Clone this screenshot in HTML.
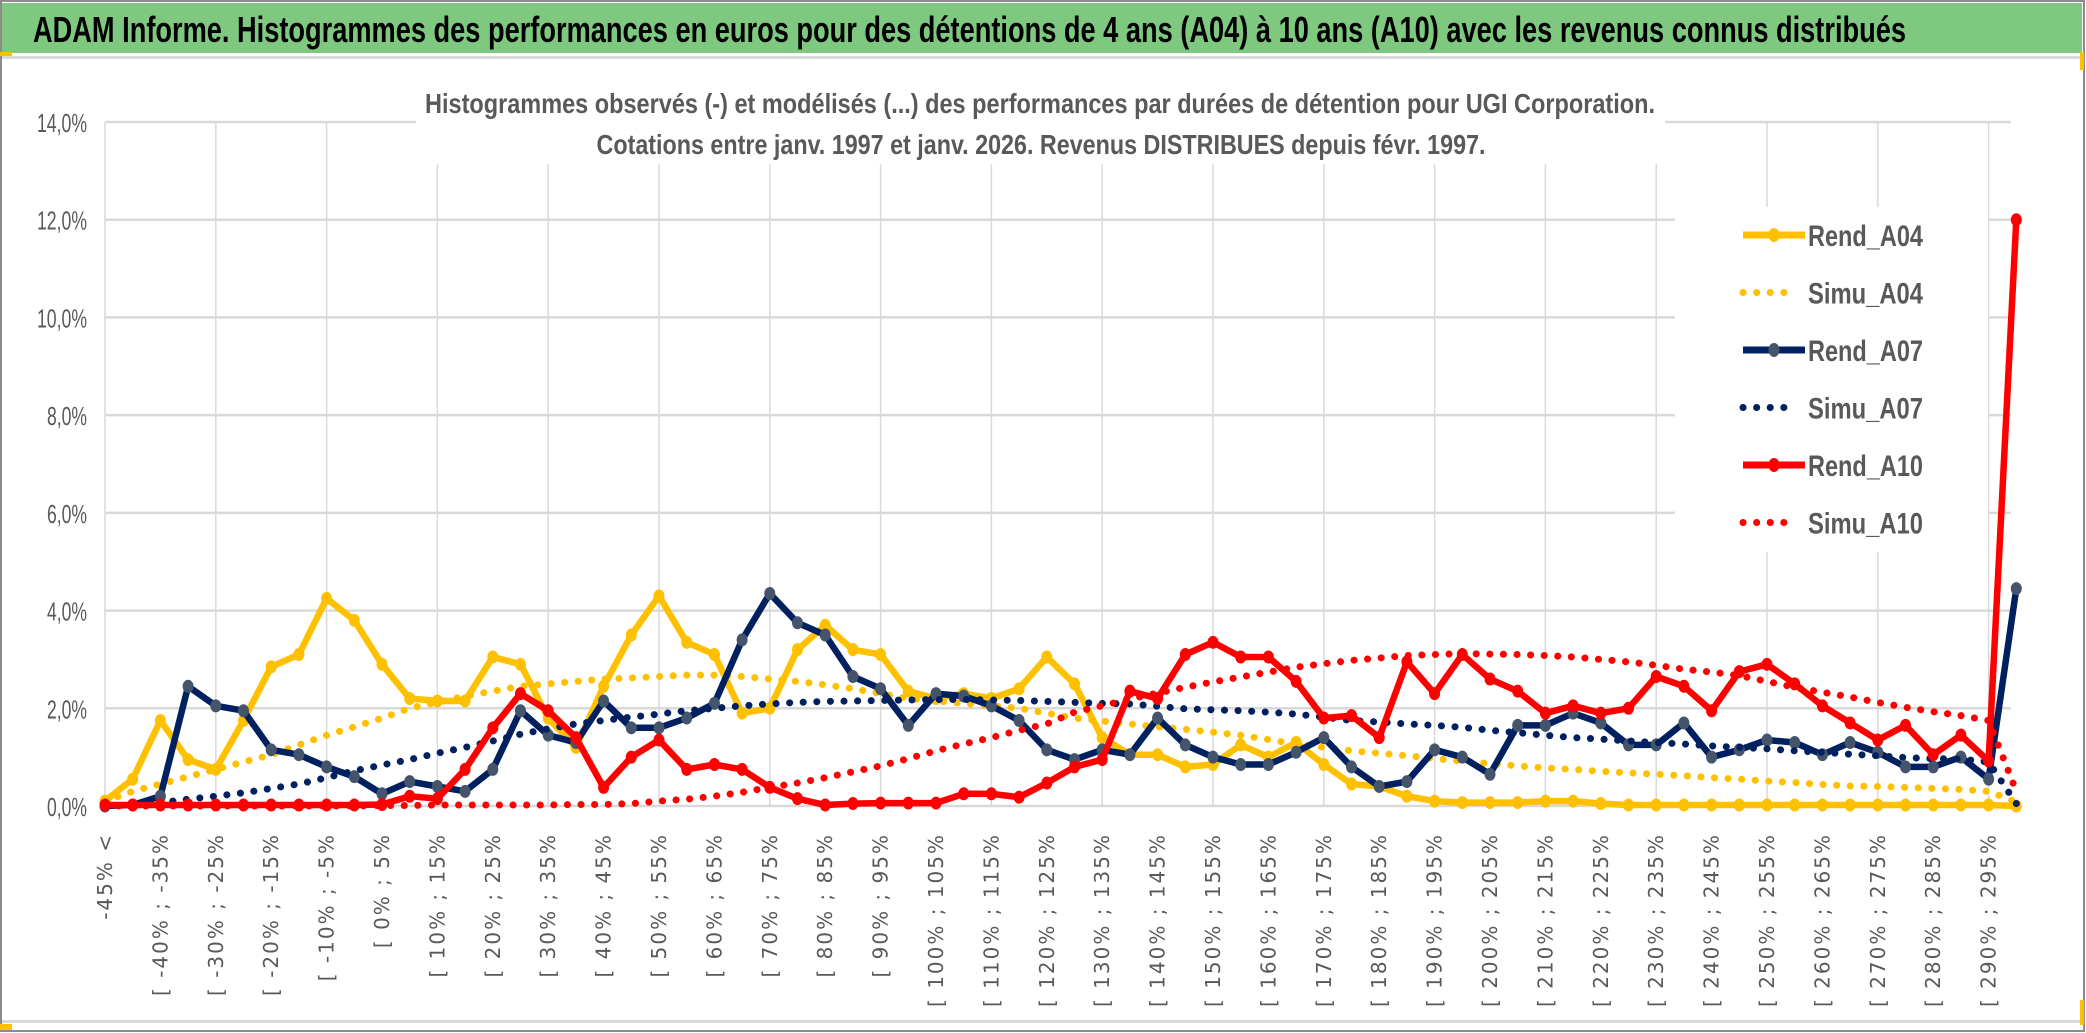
<!DOCTYPE html>
<html><head><meta charset="utf-8"><style>
html,body{margin:0;padding:0;background:#fff;}
svg{display:block;}
</style></head><body>
<svg id="chart" width="2086" height="1033" viewBox="0 0 2086 1033" xmlns="http://www.w3.org/2000/svg">
<rect x="0" y="0" width="2086" height="1033" fill="#fff"/>
<rect x="1" y="1" width="2083" height="1030" fill="none" stroke="#8c8c8c" stroke-width="2"/>
<rect x="2" y="3" width="2080" height="50" fill="#7ec97f"/>
<text x="33" y="42" font-family="Liberation Sans, sans-serif" font-weight="bold" font-size="36" fill="#000" textLength="1873" lengthAdjust="spacingAndGlyphs">ADAM Informe. Histogrammes des performances en euros pour des détentions de 4 ans (A04) à 10 ans (A10) avec les revenus connus distribués</text>
<rect x="0" y="52" width="12" height="4" fill="#ffc000"/>
<rect x="2" y="56" width="2080" height="3" fill="#d9d9d9"/>
<rect x="2" y="1020" width="2080" height="3" fill="#d9d9d9"/>
<rect x="0" y="1024" width="12" height="6" fill="#ffc000"/>
<rect x="2080" y="52" width="4" height="18" fill="#ffc000"/>
<rect x="2080" y="1000" width="4" height="25" fill="#ffc000"/>
<g id="grid"></g>
<rect x="416" y="78" width="1249" height="86" fill="#fff"/>
<text x="1040" y="113" text-anchor="middle" font-family="Liberation Sans, sans-serif" font-weight="bold" font-size="28" fill="#595959" textLength="1230" lengthAdjust="spacingAndGlyphs">Histogrammes observés (-) et modélisés (...) des performances par durées de détention pour UGI Corporation.</text>
<text x="1041" y="154" text-anchor="middle" font-family="Liberation Sans, sans-serif" font-weight="bold" font-size="28" fill="#595959" textLength="889" lengthAdjust="spacingAndGlyphs">Cotations entre janv. 1997 et janv. 2026. Revenus DISTRIBUES depuis févr. 1997.</text>
<g id="axes"></g>
<rect x="1675" y="207" width="313" height="345" fill="#fff"/>
<g id="series"></g>
<g id="legend"></g>
</svg>
<script>
const categories = ["-45% <","[ -45% ; -40%","[ -40% ; -35%","[ -35% ; -30%","[ -30% ; -25%","[ -25% ; -20%","[ -20% ; -15%","[ -15% ; -10%","[ -10% ; -5%","[ -5% ; 0%",
"[ 0% ; 5%","[ 5% ; 10%","[ 10% ; 15%","[ 15% ; 20%","[ 20% ; 25%","[ 25% ; 30%","[ 30% ; 35%","[ 35% ; 40%","[ 40% ; 45%","[ 45% ; 50%",
"[ 50% ; 55%","[ 55% ; 60%","[ 60% ; 65%","[ 65% ; 70%","[ 70% ; 75%","[ 75% ; 80%","[ 80% ; 85%","[ 85% ; 90%","[ 90% ; 95%","[ 95% ; 100%",
"[ 100% ; 105%","[ 105% ; 110%","[ 110% ; 115%","[ 115% ; 120%","[ 120% ; 125%","[ 125% ; 130%","[ 130% ; 135%","[ 135% ; 140%","[ 140% ; 145%","[ 145% ; 150%",
"[ 150% ; 155%","[ 155% ; 160%","[ 160% ; 165%","[ 165% ; 170%","[ 170% ; 175%","[ 175% ; 180%","[ 180% ; 185%","[ 185% ; 190%","[ 190% ; 195%","[ 195% ; 200%",
"[ 200% ; 205%","[ 205% ; 210%","[ 210% ; 215%","[ 215% ; 220%","[ 220% ; 225%","[ 225% ; 230%","[ 230% ; 235%","[ 235% ; 240%","[ 240% ; 245%","[ 245% ; 250%",
"[ 250% ; 255%","[ 255% ; 260%","[ 260% ; 265%","[ 265% ; 270%","[ 270% ; 275%","[ 275% ; 280%","[ 280% ; 285%","[ 285% ; 290%","[ 290% ; 295%","[ 295% ; 300%"];
const yTicks = [0,2,4,6,8,10,12,14];
const yTickLabels = ["0,0%","2,0%","4,0%","6,0%","8,0%","10,0%","12,0%","14,0%"];
const rendA04 = [0.1,0.55,1.75,0.95,0.75,1.75,2.85,3.1,4.25,3.8,
2.9,2.2,2.15,2.15,3.05,2.9,1.8,1.2,2.45,3.5,
4.3,3.35,3.1,1.9,2.0,3.2,3.7,3.2,3.1,2.35,
2.2,2.3,2.2,2.4,3.05,2.5,1.4,1.05,1.05,0.8,
0.85,1.25,1.0,1.3,0.85,0.45,0.4,0.2,0.1,0.07,
0.07,0.07,0.1,0.1,0.05,0.02,0.02,0.02,0.02,0.02,
0.02,0.02,0.02,0.02,0.02,0.02,0.02,0.02,0.02,0.0];
const simuA04 = [0.1,0.3,0.45,0.6,0.75,0.9,1.05,1.25,1.45,1.62,
1.8,2.0,2.12,2.25,2.35,2.45,2.5,2.55,2.6,2.62,
2.65,2.68,2.68,2.65,2.6,2.55,2.48,2.4,2.3,2.2,
2.15,2.1,2.05,2.0,1.9,1.8,1.74,1.68,1.62,1.57,
1.51,1.45,1.36,1.27,1.2,1.13,1.08,1.03,0.97,0.92,
0.87,0.82,0.78,0.75,0.71,0.68,0.65,0.62,0.58,0.55,
0.51,0.48,0.44,0.41,0.4,0.38,0.36,0.34,0.3,0.08];
const rendA07 = [0,0.02,0.2,2.45,2.05,1.95,1.15,1.05,0.8,0.6,
0.25,0.5,0.4,0.3,0.75,1.95,1.45,1.3,2.15,1.6,
1.6,1.8,2.1,3.4,4.35,3.75,3.5,2.65,2.4,1.65,
2.3,2.25,2.05,1.75,1.15,0.95,1.15,1.05,1.8,1.25,
1.0,0.85,0.85,1.1,1.4,0.8,0.4,0.5,1.15,1.0,
0.65,1.65,1.65,1.9,1.7,1.25,1.25,1.7,1.0,1.15,
1.35,1.3,1.05,1.3,1.1,0.8,0.8,1.0,0.55,4.45];
const simuA07 = [0.0,0.02,0.07,0.14,0.2,0.27,0.36,0.45,0.58,0.72,
0.84,0.95,1.08,1.2,1.33,1.47,1.58,1.68,1.75,1.82,
1.88,1.95,2.0,2.05,2.09,2.12,2.14,2.15,2.16,2.17,
2.18,2.18,2.17,2.16,2.14,2.12,2.1,2.09,2.04,1.99,
1.97,1.95,1.92,1.88,1.82,1.75,1.72,1.68,1.65,1.61,
1.55,1.5,1.45,1.4,1.37,1.33,1.3,1.27,1.23,1.2,
1.17,1.13,1.1,1.06,1.03,0.99,0.97,0.96,0.9,0.05];
const rendA10 = [0.02,0.02,0.02,0.02,0.02,0.02,0.02,0.02,0.02,0.02,
0.03,0.2,0.15,0.75,1.6,2.3,1.95,1.4,0.38,1.0,
1.35,0.75,0.85,0.75,0.38,0.15,0.02,0.05,0.06,0.06,
0.06,0.25,0.25,0.18,0.47,0.8,0.95,2.35,2.2,3.1,
3.35,3.05,3.05,2.55,1.8,1.85,1.4,2.95,2.3,3.1,
2.6,2.35,1.9,2.05,1.9,2.0,2.65,2.45,1.95,2.75,
2.9,2.5,2.05,1.7,1.35,1.65,1.05,1.45,0.92,12.0];
const simuA10 = [0,0,0,0,0,0,0,0,0,0,
0.01,0.01,0.02,0.02,0.02,0.02,0.02,0.03,0.03,0.05,
0.1,0.14,0.2,0.28,0.38,0.47,0.58,0.7,0.82,0.97,
1.13,1.27,1.4,1.55,1.68,1.92,2.05,2.19,2.31,2.43,
2.54,2.64,2.74,2.84,2.91,2.98,3.03,3.08,3.1,3.12,
3.11,3.1,3.08,3.05,3.0,2.95,2.88,2.8,2.74,2.67,
2.55,2.43,2.33,2.23,2.12,2.02,1.93,1.85,1.75,0.3];
const seriesNames = ["Rend_A04","Simu_A04","Rend_A07","Simu_A07","Rend_A10","Simu_A10"];

const NS = "http://www.w3.org/2000/svg";
const X0 = 105, DX = 27.7, Y0 = 806, YPER = (806 - 122) / 14, XR = 2011;
function xs(i){ return X0 + i * DX; }
function ys(v){ return Y0 - v * YPER; }
function mk(tag, attrs, parent){
  const e = document.createElementNS(NS, tag);
  for (const k in attrs) e.setAttribute(k, attrs[k]);
  parent.appendChild(e);
  return e;
}
const grid = document.getElementById('grid');
const axes = document.getElementById('axes');
const seriesG = document.getElementById('series');
const legendG = document.getElementById('legend');

yTicks.forEach((t, k) => {
  const l = mk('line', {x1: X0, x2: XR, y1: ys(t), y2: ys(t), stroke: '#d9d9d9', 'stroke-width': 2.5}, grid);
  
  
  const tx = mk('text', {x: 87, y: ys(t) + 10, 'text-anchor': 'end', 'font-family': 'Liberation Sans, sans-serif', 'font-size': 26, fill: '#595959', textLength: yTickLabels[k].length * 10, lengthAdjust: 'spacingAndGlyphs'}, axes);
  tx.textContent = yTickLabels[k];
  
  
});
for (let i = 0; i < categories.length; i += 4) {
  const l = mk('line', {x1: xs(i), x2: xs(i), y1: ys(14), y2: ys(0), stroke: '#d9d9d9', 'stroke-width': 1.5}, grid);
  
  
}
categories.forEach((c, i) => {
  if (i % 2 !== 0) return;
  const x = xs(i) + 7, y = 833;
  const tx = mk('text', {x: x, y: y, transform: 'rotate(-90 ' + x + ' ' + y + ')', 'text-anchor': 'end', 'font-family': 'DejaVu Sans, sans-serif', 'font-size': 20, 'letter-spacing': 2, fill: '#595959'}, axes);
  tx.textContent = c;
  
  
});

function pts(arr){ return arr.map((v, i) => xs(i).toFixed(1) + ',' + ys(v).toFixed(1)).join(' '); }
function solid(arr, color, marker, name){
  const g = mk('g', {}, seriesG);
  
  
  mk('polyline', {points: pts(arr), fill: 'none', stroke: color, 'stroke-width': 6.5, 'stroke-linejoin': 'round'}, g);
  arr.forEach((v, i) => {
    const c = mk('ellipse', {cx: xs(i), cy: ys(v), rx: 5.5, ry: 6.5, fill: marker}, g);
    
    
  });
}
function dotted(arr, color, name){
  const p = mk('polyline', {points: pts(arr), fill: 'none', stroke: color, 'stroke-width': 7, 'stroke-linecap': 'round', 'stroke-dasharray': '0.1 13.5'}, seriesG);
  
  
}
solid(rendA04, '#ffc000', '#ffc000', 'series-rend-a04');
dotted(simuA04, '#ffc000', 'series-simu-a04');
solid(rendA07, '#002060', '#44546a', 'series-rend-a07');
dotted(simuA07, '#002060', 'series-simu-a07');
solid(rendA10, '#ff0000', '#ff0000', 'series-rend-a10');
dotted(simuA10, '#ff0000', 'series-simu-a10');

const legColors = ['#ffc000','#ffc000','#002060','#002060','#ff0000','#ff0000'];
const legMarkers = ['#ffc000',null,'#44546a',null,'#ff0000',null];
seriesNames.forEach((n, k) => {
  const y = 235 + k * 57.5;
  const g = mk('g', {}, legendG);
  
  
  if (legMarkers[k]) {
    mk('line', {x1: 1743, x2: 1805, y1: y, y2: y, stroke: legColors[k], 'stroke-width': 7}, g);
    mk('ellipse', {cx: 1774, cy: y, rx: 5.5, ry: 7, fill: legMarkers[k]}, g);
  } else {
    mk('line', {x1: 1743, x2: 1795, y1: y, y2: y, stroke: legColors[k], 'stroke-width': 7, 'stroke-linecap': 'round', 'stroke-dasharray': '0.1 13.5'}, g);
  }
  const t = mk('text', {x: 1808, y: y + 11, 'font-family': 'Liberation Sans, sans-serif', 'font-weight': 'bold', 'font-size': 30, fill: '#595959', textLength: 115, lengthAdjust: 'spacingAndGlyphs'}, g);
  t.textContent = n;
});
</script>
</body></html>
